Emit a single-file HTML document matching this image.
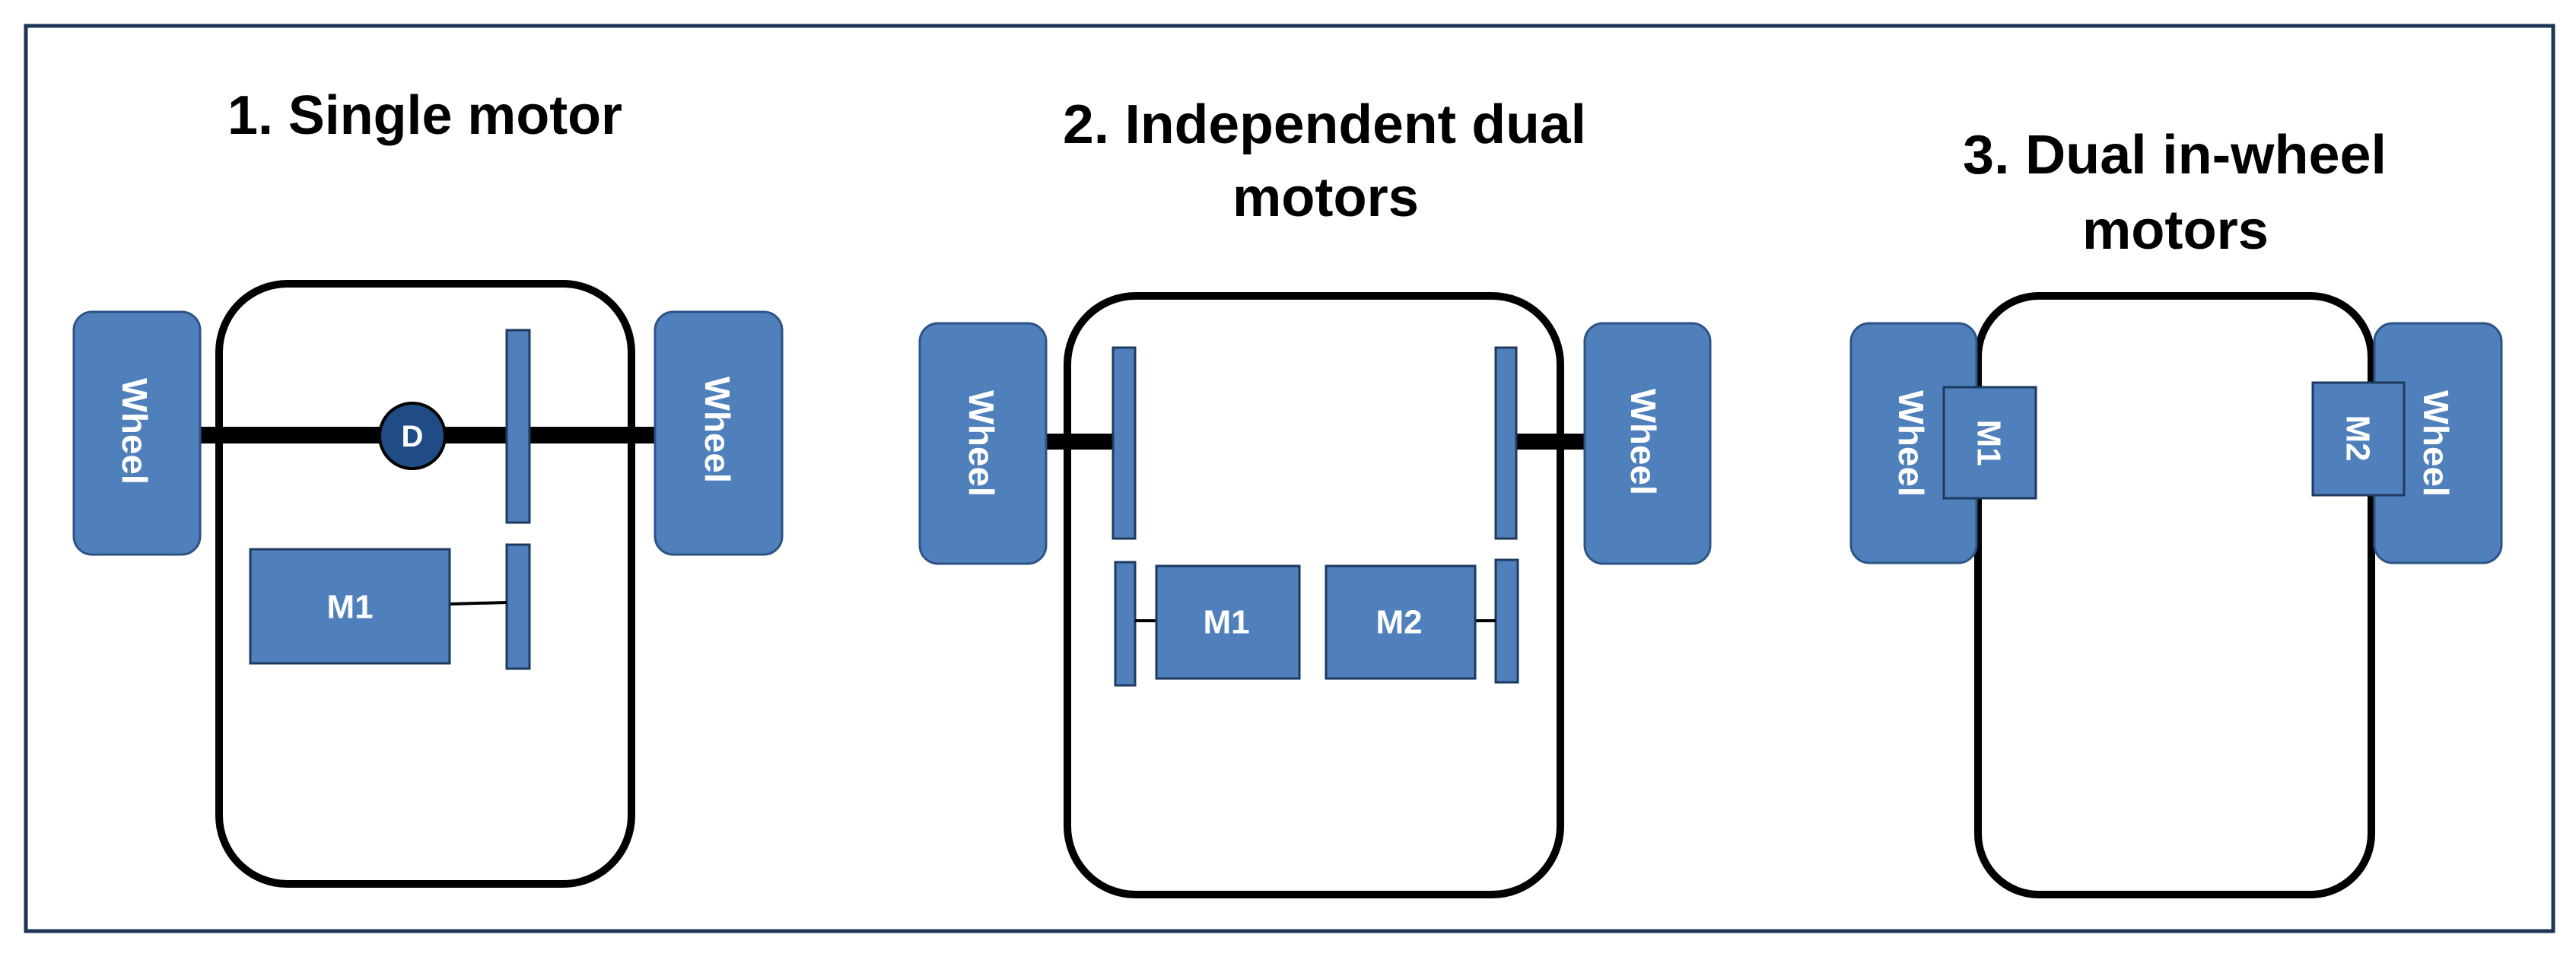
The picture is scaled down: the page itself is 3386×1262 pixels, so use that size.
<!DOCTYPE html>
<html><head><meta charset="utf-8"><style>
html,body{margin:0;padding:0;background:#fff}
svg{display:block}
text{font-family:"Liberation Sans",sans-serif;font-weight:bold}
.w{fill:#4F80BC;stroke:#2E5385;stroke-width:3}
.g{fill:#4F80BC;stroke:#1E3A60;stroke-width:3}
.b{fill:none;stroke:#000;stroke-width:10}
.t{fill:#000;font-size:72px}
.wt{fill:#fff;font-size:46px}
.mt{fill:#fff;font-size:44px}
</style></head><body>
<svg width="3386" height="1262" viewBox="0 0 3386 1262" xmlns="http://www.w3.org/2000/svg">
<rect x="0" y="0" width="3386" height="1262" fill="#fff"/>
<rect x="34" y="34" width="3322" height="1190" fill="none" stroke="#1C3557" stroke-width="5"/>

<!-- Panel 1 -->
<text class="t" x="299" y="176" textLength="519" lengthAdjust="spacingAndGlyphs">1. Single motor</text>
<rect class="b" x="288" y="373" width="542" height="789" rx="90"/>
<rect x="263" y="561" width="598" height="22" fill="#000"/>
<rect class="w" x="97" y="410" width="166" height="319" rx="24"/>
<rect class="w" x="861" y="410" width="167" height="319" rx="24"/>
<text class="wt" transform="translate(177,567) rotate(90)" text-anchor="middle" dominant-baseline="central" textLength="140" lengthAdjust="spacingAndGlyphs">Wheel</text>
<text class="wt" transform="translate(943,565) rotate(90)" text-anchor="middle" dominant-baseline="central" textLength="140" lengthAdjust="spacingAndGlyphs">Wheel</text>
<circle cx="542" cy="573" r="43" fill="#1F4C84" stroke="#000" stroke-width="4"/>
<text x="542" y="574" fill="#fff" font-size="40" text-anchor="middle" dominant-baseline="central">D</text>
<rect class="g" x="666" y="434" width="30" height="253"/>
<rect class="g" x="666" y="716" width="30" height="163"/>
<line x1="591" y1="794" x2="666" y2="792" stroke="#000" stroke-width="4"/>
<rect class="g" x="329" y="722" width="262" height="150"/>
<text class="mt" x="460" y="798" text-anchor="middle" dominant-baseline="central">M1</text>

<!-- Panel 2 -->
<text class="t" x="1397" y="188" textLength="688" lengthAdjust="spacingAndGlyphs">2. Independent dual</text>
<text class="t" x="1620" y="284" textLength="245" lengthAdjust="spacingAndGlyphs">motors</text>
<rect class="b" x="1403" y="389" width="648" height="787" rx="90"/>
<rect x="1375" y="570" width="90" height="21" fill="#000"/>
<rect x="1993" y="570" width="90" height="21" fill="#000"/>
<rect class="w" x="1209" y="425" width="166" height="316" rx="24"/>
<rect class="w" x="2083" y="425" width="165" height="316" rx="24"/>
<text class="wt" transform="translate(1290,583) rotate(90)" text-anchor="middle" dominant-baseline="central" textLength="140" lengthAdjust="spacingAndGlyphs">Wheel</text>
<text class="wt" transform="translate(2160,581) rotate(90)" text-anchor="middle" dominant-baseline="central" textLength="140" lengthAdjust="spacingAndGlyphs">Wheel</text>
<rect class="g" x="1463" y="457" width="29" height="251"/>
<rect class="g" x="1966" y="457" width="27" height="251"/>
<rect class="g" x="1466" y="739" width="26" height="162"/>
<rect class="g" x="1966" y="736" width="29" height="161"/>
<line x1="1492" y1="816" x2="1520" y2="816" stroke="#000" stroke-width="4"/>
<line x1="1939" y1="816" x2="1966" y2="816" stroke="#000" stroke-width="4"/>
<rect class="g" x="1520" y="744" width="188" height="148"/>
<rect class="g" x="1743" y="744" width="196" height="148"/>
<text class="mt" x="1612" y="818" text-anchor="middle" dominant-baseline="central">M1</text>
<text class="mt" x="1839" y="818" text-anchor="middle" dominant-baseline="central">M2</text>

<!-- Panel 3 -->
<text class="t" x="2580" y="228" textLength="557" lengthAdjust="spacingAndGlyphs">3. Dual in-wheel</text>
<text class="t" x="2737" y="327" textLength="245" lengthAdjust="spacingAndGlyphs">motors</text>
<rect class="b" x="2600" y="389" width="517" height="787" rx="80"/>
<rect class="w" x="2433" y="425" width="165" height="315" rx="24"/>
<rect class="w" x="3121" y="425" width="167" height="315" rx="24"/>
<text class="wt" transform="translate(2512,583) rotate(90)" text-anchor="middle" dominant-baseline="central" textLength="140" lengthAdjust="spacingAndGlyphs">Wheel</text>
<text class="wt" transform="translate(3202,583) rotate(90)" text-anchor="middle" dominant-baseline="central" textLength="140" lengthAdjust="spacingAndGlyphs">Wheel</text>
<rect class="g" x="2555" y="509" width="121" height="146"/>
<rect class="g" x="3040" y="503" width="120" height="148"/>
<text class="mt" transform="translate(2614,582) rotate(90)" text-anchor="middle" dominant-baseline="central">M1</text>
<text class="mt" transform="translate(3099,576) rotate(90)" text-anchor="middle" dominant-baseline="central">M2</text>
</svg>
</body></html>
